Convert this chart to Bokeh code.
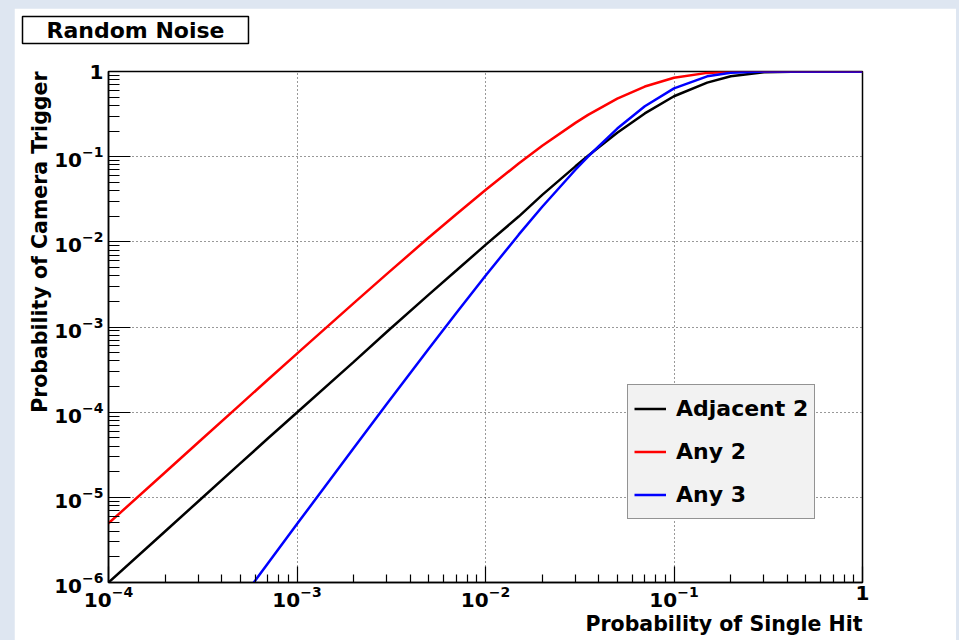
from bokeh.plotting import figure
from bokeh.models import FixedTicker, Legend, LegendItem, Range1d, Title
from bokeh.layouts import column
from bokeh.embed import file_html
from bokeh.resources import INLINE

# ---- data ----
p_single_hit = [1e-4, 2e-4, 3e-4, 5e-4, 7e-4, 1e-3, 2e-3, 3e-3, 5e-3, 7e-3,
                1e-2, 1.5e-2, 2e-2, 3e-2, 3.5e-2, 5e-2, 7e-2, 0.1, 0.15, 0.2,
                0.3, 0.5, 1.0]
adjacent_2 = [1.0e-6, 4.0e-6, 9.0e-6, 2.5e-5, 4.9e-5, 9.9e-5, 3.9e-4, 8.8e-4,
              2.4e-3, 4.6e-3, 9.2e-3, 0.0198, 0.0356, 0.0770, 0.1024, 0.191,
              0.322, 0.512, 0.74, 0.88, 0.98, 0.9995, 1.0]
any_2 = [4.95e-6, 1.97e-5, 4.43e-5, 1.228e-4, 2.40e-4, 4.86e-4, 1.906e-3,
         4.205e-3, 0.01123, 0.02109, 0.04068, 0.08306, 0.1340, 0.2493, 0.3091,
         0.4800, 0.6659, 0.8436, 0.9634, 0.9929, 0.9998, 1.0, 1.0]
any_3 = [4.95e-9, 3.96e-8, 1.335e-7, 6.1e-7, 1.67e-6, 4.85e-6, 3.80e-5,
         1.257e-4, 5.56e-4, 1.46e-3, 3.99e-3, 0.01214, 0.0258, 0.07028, 0.1004,
         0.2139, 0.3904, 0.6333, 0.8782, 0.9683, 0.9988, 1.0, 1.0]

series_names = ["Adjacent 2", "Any 2", "Any 3"]
series_colors = ["#000000", "#ff0000", "#0000ff"]

x_major = [1e-4, 1e-3, 1e-2, 1e-1, 1]
y_major = [1e-6, 1e-5, 1e-4, 1e-3, 1e-2, 1e-1, 1]
x_minor = [m * 10.0 ** e for e in range(-4, 0) for m in range(2, 10)]
y_minor = [m * 10.0 ** e for e in range(-6, 0) for m in range(2, 10)]

title_text = "Random Noise"
x_title = "Probability of Single Hit"
y_title = "Probability of Camera Trigger"

FONT = "DejaVu Sans"

p = figure(width=942, height=632, x_axis_type="log", y_axis_type="log",
           x_range=Range1d(1e-4, 1), y_range=Range1d(1e-6, 1),
           output_backend="svg", toolbar_location=None,
           min_border_left=94, min_border_right=94,
           min_border_top=63, min_border_bottom=58,
           background_fill_color="white", border_fill_color="white")
p.margin = (8, 3, 0, 14)

p.outline_line_color = "#000000"
p.outline_line_width = 1.5

for ax, major, minor, tin, mtin, stand in (
        (p.xaxis[0], x_major, x_minor, 16, 8, 3),
        (p.yaxis[0], y_major, y_minor, 22, 11, 5)):
    ax.ticker = FixedTicker(ticks=major, minor_ticks=minor)
    ax.major_tick_in = tin
    ax.major_tick_out = 0
    ax.minor_tick_in = mtin
    ax.minor_tick_out = 0
    ax.axis_line_color = "#000000"
    ax.axis_line_width = 1.5
    ax.major_tick_line_color = "#000000"
    ax.minor_tick_line_color = "#000000"
    ax.major_tick_line_width = 1.2
    ax.minor_tick_line_width = 1.2
    ax.major_label_text_font = FONT
    ax.major_label_text_font_style = "bold"
    ax.major_label_text_font_size = "20px"
    ax.major_label_text_color = "#000000"
    ax.major_label_standoff = stand
    ax.major_label_overrides = {1: "1"}

for g in (p.xgrid[0], p.ygrid[0]):
    g.grid_line_color = "#333333"
    g.grid_line_dash = "1 3"
    g.grid_line_width = 1

renderers = []
for vals, color in zip((adjacent_2, any_2, any_3), series_colors):
    r = p.line(p_single_hit, vals, line_color=color, line_width=2.5)
    renderers.append(r)

legend = Legend(items=[LegendItem(label=n, renderers=[r])
                       for n, r in zip(series_names, renderers)],
                location=(519, 63))
legend.background_fill_color = "#f2f2f2"
legend.background_fill_alpha = 1.0
legend.border_line_color = "#333333"
legend.border_line_width = 1.5
legend.label_text_font = FONT
legend.label_text_font_style = "bold"
legend.label_text_font_size = "22px"
legend.label_text_color = "#000000"
legend.glyph_width = 32
legend.glyph_height = 35
legend.spacing = 8
legend.padding = 6
legend.margin = 0
legend.label_standoff = 10
p.add_layout(legend)

# spacer between the frame and the boxed title
spacer = Title(text=" ", text_font_size="2px", standoff=14)
p.add_layout(spacer, "above")

# main title in a box (ROOT style)
p.title.text = title_text
p.title.align = "left"
p.title.vertical_align = "top"
p.title.offset = -86
p.title.standoff = 16
p.title.text_font = FONT
p.title.text_font_style = "bold"
p.title.text_font_size = "22px"
p.title.text_color = "#000000"
p.title.background_fill_color = "white"
p.title.border_line_color = "#000000"
p.title.border_line_width = 1.5
p.title.padding = dict(left=24, right=24, top=1, bottom=1)

xt = Title(text=x_title, align="right", standoff=0, offset=0,
           text_font=FONT, text_font_style="bold", text_font_size="20.5px",
           text_color="#000000")
p.add_layout(xt, "below")

yt = Title(text=y_title, align="right", standoff=0, offset=0,
           text_font=FONT, text_font_style="bold", text_font_size="20.5px",
           text_color="#000000")
p.add_layout(yt, "left")

page = column(p, styles={"background-color": "#dee6f1"})

open("out.html", "w").write(file_html(page, INLINE))
